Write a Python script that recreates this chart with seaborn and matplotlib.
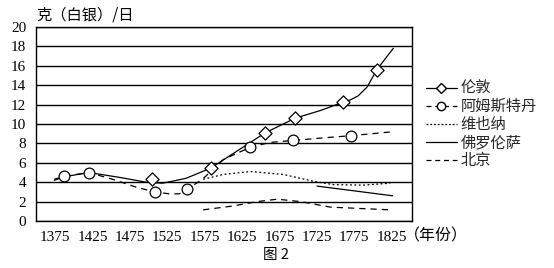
import matplotlib
matplotlib.use("Agg")
import matplotlib.pyplot as plt
from matplotlib.lines import Line2D
import seaborn as sns

# ---- data ----
london_line_years = [1374, 1387, 1420, 1461, 1497, 1519, 1550, 1572, 1584, 1620, 1656, 1696, 1730, 1760, 1770, 1780, 1792, 1805, 1827]
london_line_vals = [4.2, 4.55, 5.0, 4.5, 4.0, 3.9, 4.4, 5.1, 5.5, 7.3, 9.1, 10.6, 11.4, 12.25, 12.5, 12.9, 13.8, 15.6, 17.8]
london_mark_years = [1505, 1584, 1656, 1696, 1760, 1805]
london_mark_vals = [4.3, 5.5, 9.1, 10.6, 12.25, 15.6]

ams_line_years = [1374, 1387, 1420, 1452, 1483, 1508, 1528, 1541, 1552, 1572, 1600, 1636, 1662, 1693, 1730, 1771, 1826]
ams_line_vals = [4.3, 4.6, 5.0, 4.3, 3.5, 3.0, 2.8, 2.8, 3.3, 4.3, 6.35, 7.6, 8.1, 8.3, 8.55, 8.8, 9.2]
ams_mark_years = [1387, 1420, 1508, 1552, 1636, 1693, 1771]
ams_mark_vals = [4.6, 5.0, 3.0, 3.3, 7.6, 8.3, 8.8]

vienna_years = [1573, 1600, 1636, 1680, 1720, 1747, 1787, 1823]
vienna_vals = [4.3, 4.8, 5.1, 4.8, 4.1, 3.75, 3.7, 3.9]

florence_years = [1725, 1826]
florence_vals = [3.6, 2.6]

beijing_years = [1573, 1613, 1645, 1672, 1703, 1743, 1823]
beijing_vals = [1.15, 1.55, 2.0, 2.25, 2.0, 1.43, 1.15]

x_ticks = [1375, 1425, 1475, 1525, 1575, 1625, 1675, 1725, 1775, 1825]
y_ticks = [0, 2, 4, 6, 8, 10, 12, 14, 16, 18, 20]
series_names = ["伦敦", "阿姆斯特丹", "维也纳", "佛罗伦萨", "北京"]

# ---- style ----
sns.set_theme(style="white")
plt.rcParams["font.family"] = ["Liberation Serif", "Noto Sans CJK SC"]
CJK = ["Noto Sans CJK SC", "DejaVu Sans"]

fig = plt.figure(figsize=(5.54, 2.68), dpi=100)
ax = fig.add_axes([36 / 554, 1 - 221 / 268, (412 - 36) / 554, (221 - 27) / 268])

lw = 0.9
for yv in y_ticks:
    ax.axhline(yv, color="black", lw=1.0, zorder=1)

def line(xs, ys, ls, dashes=None):
    sns.lineplot(x=xs, y=ys, ax=ax, color="black", lw=lw, sort=False,
                 estimator=None, linestyle=ls, zorder=2)
    l = ax.lines[-1]
    if dashes is not None:
        l.set_dashes(dashes)

line(london_line_years, london_line_vals, "-")
line(ams_line_years, ams_line_vals, "--", (5, 4))
line(vienna_years, vienna_vals, ":", (1.5, 2))
line(florence_years, florence_vals, "-")
line(beijing_years, beijing_vals, "--", (5, 4))

sns.scatterplot(x=london_mark_years, y=london_mark_vals, ax=ax, marker="D", s=45,
                facecolor="white", edgecolor="black", linewidth=0.9, zorder=3)
sns.scatterplot(x=ams_mark_years, y=ams_mark_vals, ax=ax, marker="o", s=60,
                facecolor="white", edgecolor="black", linewidth=0.9, zorder=3)

ax.set_xlim(1349.6, 1852)
ax.set_ylim(0, 20)
ax.set_xticks(x_ticks)
ax.set_xticklabels([str(t) for t in x_ticks])
ax.set_yticks(y_ticks)
ax.set_yticklabels([str(t) for t in y_ticks])
ax.tick_params(axis="both", length=0, labelsize=11, colors="black")
ax.tick_params(axis="y", pad=7)
ax.tick_params(axis="x", pad=7)
for s in ax.spines.values():
    s.set_visible(True)
    s.set_color("black")
    s.set_linewidth(1.0)
ax.grid(False)

# texts
fig.text(36 / 554, 1 - 15 / 268, "克（白银）/日", family=CJK, fontsize=11,
         ha="left", va="center", color="black")
fig.text(404 / 554, 1 - 236 / 268, "（年份）", family=CJK, fontsize=11.5,
         ha="left", va="center", color="black")
fig.text(276 / 554, 1 - 255 / 268, "图 2", family=CJK, fontsize=10.5,
         ha="center", va="center", color="black")

handles = [
    Line2D([], [], color="black", lw=lw, marker="D", ms=5.5, mfc="white", mec="black"),
    Line2D([], [], color="black", lw=lw, linestyle=(0, (4, 3)), marker="o", ms=6, mfc="white", mec="black"),
    Line2D([], [], color="black", lw=lw, linestyle=(0, (1.5, 1.5))),
    Line2D([], [], color="black", lw=lw),
    Line2D([], [], color="black", lw=lw, linestyle=(0, (4, 3))),
]
leg = fig.legend(handles, series_names, loc="upper left",
                 bbox_to_anchor=(426 / 554, 1 - 80 / 268), frameon=False,
                 prop={"family": CJK, "size": 11}, handlelength=2.0,
                 handletextpad=0.25, labelspacing=0.07, borderaxespad=0,
                 borderpad=0)

fig.savefig("out.png", dpi=100)
